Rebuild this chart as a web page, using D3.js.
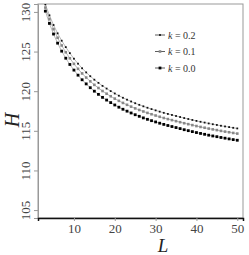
<!DOCTYPE html>
<html>
<head>
<meta charset="utf-8">
<script src="https://cdn.jsdelivr.net/npm/d3@7"></script>
<style>
  body { margin: 0; background: #fff; }
  text { font-family: "Liberation Serif", "DejaVu Serif", serif; }
</style>
</head>
<body>
<div id="chart"></div>
<script>
var Ls = [3,4,5,6,7,8,9,10,11,12,13,14,15,16,17,18,19,20,21,22,23,24,25,26,
  27,28,29,30,31,32,33,34,35,36,37,38,39,40,41,42,43,44,45,46,47,48,49,50];

var H_k00 = [130.10,128.55,127.21,126.06,125.05,124.16,123.37,122.66,122.02,121.44,
  120.92,120.44,120.00,119.60,119.22,118.88,118.56,118.26,117.98,117.72,117.48,117.25,
  117.03,116.83,116.63,116.45,116.28,116.12,115.96,115.81,115.67,115.54,115.41,115.28,
  115.14,115.02,114.90,114.78,114.67,114.56,114.45,114.35,114.26,114.16,114.07,113.98,
  113.89,113.81];

var H_k01 = [130.55,129.10,127.83,126.74,125.77,124.91,124.15,123.45,122.82,122.24,
  121.72,121.24,120.80,120.40,120.02,119.68,119.36,119.06,118.78,118.52,118.28,118.05,
  117.83,117.63,117.44,117.26,117.09,116.93,116.77,116.62,116.48,116.35,116.22,116.09,
  115.96,115.84,115.72,115.60,115.49,115.39,115.28,115.18,115.09,114.99,114.90,114.82,
  114.73,114.65];

var H_k02 = [130.95,129.57,128.35,127.30,126.37,125.56,124.80,124.10,123.47,122.89,
  122.37,121.89,121.45,121.05,120.67,120.33,120.01,119.71,119.43,119.17,118.93,118.70,
  118.48,118.28,118.09,117.91,117.74,117.58,117.42,117.27,117.13,117.00,116.87,116.74,
  116.61,116.49,116.37,116.25,116.14,116.04,115.93,115.83,115.74,115.64,115.55,115.47,
  115.38,115.30];

var series = [
  {label: "0.2", values: H_k02, marker: "dot"},
  {label: "0.1", values: H_k01, marker: "open"},
  {label: "0.0", values: H_k00, marker: "square"}
];

var xTicks = [10, 20, 30, 40, 50];
var yTicks = [105, 110, 115, 120, 125, 130];

var width = 249, height = 255;
var m = {left: 38, right: 243, top: 4, bottom: 218};

var x = d3.scaleLinear().domain([1.2, 51.4]).range([m.left, m.right]);
var y = d3.scaleLinear().domain([104, 131]).range([m.bottom, m.top]);

var svg = d3.select("#chart").append("svg")
  .attr("width", width).attr("height", height);

svg.append("clipPath").attr("id", "clip")
  .append("rect").attr("x", m.left).attr("y", m.top)
  .attr("width", m.right - m.left).attr("height", m.bottom - m.top);

// frame
svg.append("rect")
  .attr("x", m.left).attr("y", m.top)
  .attr("width", m.right - m.left).attr("height", m.bottom - m.top)
  .attr("fill", "none").attr("stroke", "#999").attr("stroke-width", 1);

// y axis
var yAxis = svg.append("g")
  .attr("transform", "translate(" + m.left + ",0)")
  .call(d3.axisLeft(y).tickValues(yTicks).tickSize(4).tickPadding(3));
yAxis.select(".domain").attr("stroke", "#999");
yAxis.selectAll(".tick line").attr("stroke", "#999");
yAxis.selectAll(".tick text")
  .attr("font-size", 13).attr("fill", "#444")
  .attr("transform", "rotate(-90)")
  .attr("x", 0).attr("y", -8)
  .attr("dy", "0")
  .attr("text-anchor", "middle");

// x axis
var xAxis = svg.append("g")
  .attr("transform", "translate(0," + m.bottom + ")")
  .call(d3.axisBottom(x).tickValues(xTicks).tickSize(3).tickPadding(3));
xAxis.select(".domain").attr("stroke", "#111").attr("stroke-width", 1.5);
xAxis.selectAll(".tick line").attr("stroke", "#999");
xAxis.selectAll(".tick text").attr("font-size", 13).attr("fill", "#444");

// axis titles
svg.append("text")
  .attr("transform", "translate(19,120) rotate(-90)")
  .attr("text-anchor", "middle")
  .attr("font-size", 20).attr("font-style", "italic").attr("fill", "#222")
  .text("H");
svg.append("text")
  .attr("x", 163).attr("y", 252)
  .attr("text-anchor", "middle")
  .attr("font-size", 19).attr("font-style", "italic").attr("fill", "#222")
  .text("L");

var line = d3.line()
  .x(function(d, i) { return x(Ls[i]); })
  .y(function(d) { return y(d); });

function drawMarker(g, type, cx, cy) {
  if (type === "dot") {
    g.append("rect").attr("x", cx - 0.9).attr("y", cy - 0.9)
      .attr("width", 1.8).attr("height", 1.8).attr("fill", "#111");
  } else if (type === "open") {
    g.append("rect").attr("x", cx - 1.3).attr("y", cy - 1.3)
      .attr("width", 2.6).attr("height", 2.6)
      .attr("fill", "#888");
  } else {
    g.append("rect").attr("x", cx - 1.4).attr("y", cy - 1.4)
      .attr("width", 2.8).attr("height", 2.8).attr("fill", "#000");
  }
}

var plot = svg.append("g").attr("clip-path", "url(#clip)");

series.forEach(function(s) {
  plot.append("path")
    .datum(s.values)
    .attr("d", line)
    .attr("fill", "none")
    .attr("stroke", "#888")
    .attr("stroke-width", 0.6);
  var mg = plot.append("g");
  s.values.forEach(function(v, i) {
    drawMarker(mg, s.marker, x(Ls[i]), y(v));
  });
});

// legend
var legend = svg.append("g");
series.forEach(function(s, i) {
  var ly = 35 + i * 16.5;
  legend.append("line")
    .attr("x1", 155).attr("x2", 165).attr("y1", ly).attr("y2", ly)
    .attr("stroke", "#333").attr("stroke-width", 0.8);
  drawMarker(legend, s.marker, 160, ly);
  var t = legend.append("text")
    .attr("x", 168).attr("y", ly + 3.5)
    .attr("font-size", 10).attr("fill", "#333");
  t.append("tspan").attr("font-style", "italic").text("k");
  t.append("tspan").text(" = " + s.label);
});
</script>
</body>
</html>
